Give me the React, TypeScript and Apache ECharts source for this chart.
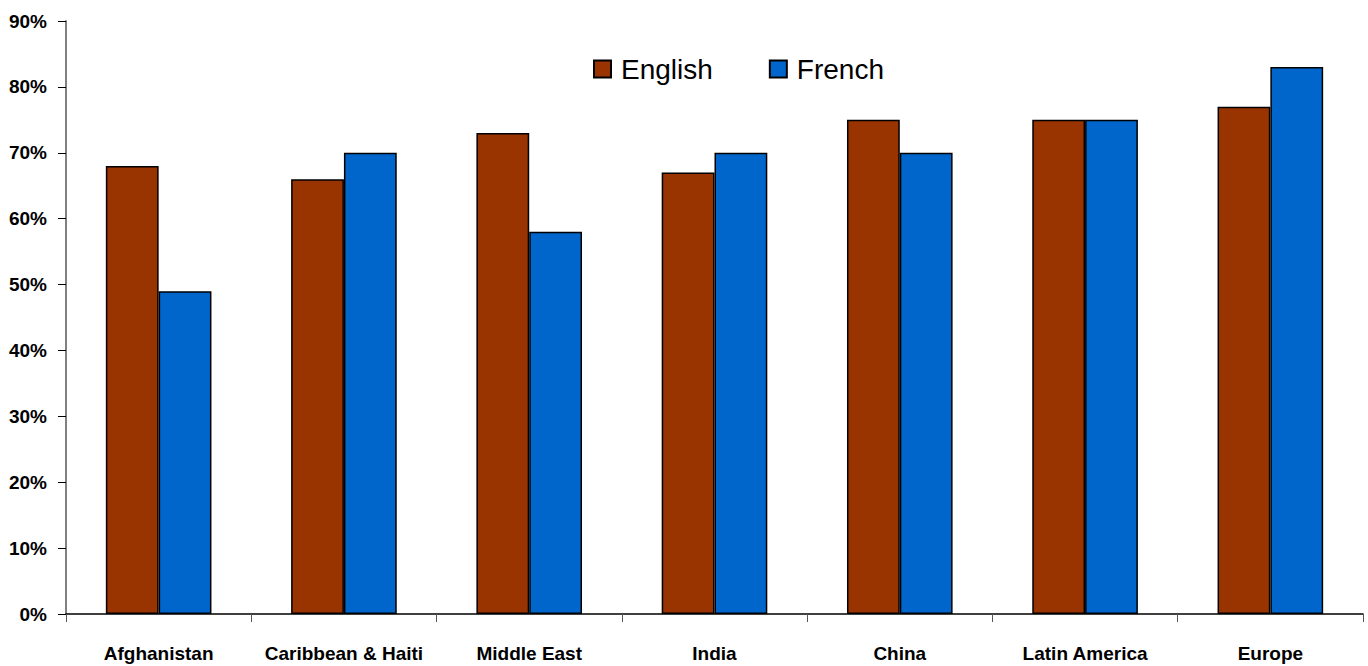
import React, { useEffect, useRef } from "react";
import * as echarts from "echarts";

const categories = ["Afghanistan", "Caribbean & Haiti", "Middle East", "India", "China", "Latin America", "Europe"];
const englishValues = [68, 66, 73, 67, 75, 75, 77];
const frenchValues = [49, 70, 58, 70, 70, 75, 83];

export default function App() {
  const ref = useRef<HTMLDivElement>(null);
  useEffect(() => {
    if (!ref.current) return;
    const chart = echarts.init(ref.current, null, { renderer: "svg" });
    chart.setOption({
      animation: false,
      backgroundColor: "#ffffff",
      textStyle: { fontFamily: "Liberation Sans, Arial, sans-serif" },
      legend: {
        left: 588,
        top: 50,
        itemWidth: 17,
        itemHeight: 17,
        itemGap: 56,
        icon: "rect",
        textStyle: { fontSize: 28, color: "#000", padding: [0, 0, 0, 5] },
        data: ["English", "French"],
      },
      grid: { left: 66, right: 5, top: 21, bottom: 52, containLabel: false },
      xAxis: {
        type: "category",
        data: categories,
        axisLine: { lineStyle: { color: "#000", width: 1.5 } },
        axisTick: { show: true, length: 8, lineStyle: { color: "#555" } },
        axisLabel: { fontSize: 19, fontWeight: "bold", color: "#000", margin: 30, interval: 0 },
      },
      yAxis: {
        type: "value",
        min: 0,
        max: 90,
        interval: 10,
        axisLine: { show: true, lineStyle: { color: "#808080", width: 2 } },
        axisTick: { show: true, length: 8, lineStyle: { color: "#000" } },
        splitLine: { show: false },
        axisLabel: {
          fontSize: 19,
          fontWeight: "bold",
          color: "#000",
          margin: 19,
          formatter: (v: number) => `${v}%`,
        },
      },
      series: [
        {
          name: "English",
          type: "bar",
          data: englishValues,
          barGap: "0%",
          barCategoryGap: "43%",
          itemStyle: { color: "#993300", borderColor: "#000", borderWidth: 1.5 },
        },
        {
          name: "French",
          type: "bar",
          data: frenchValues,
          barGap: "0%",
          barCategoryGap: "43%",
          itemStyle: { color: "#0066CC", borderColor: "#000", borderWidth: 1.5 },
        },
      ],
    });
    return () => chart.dispose();
  }, []);
  return (
    <div
      ref={ref}
      style={{ position: "fixed", left: 0, top: 0, width: 1368, height: 666 }}
    />
  );
}
